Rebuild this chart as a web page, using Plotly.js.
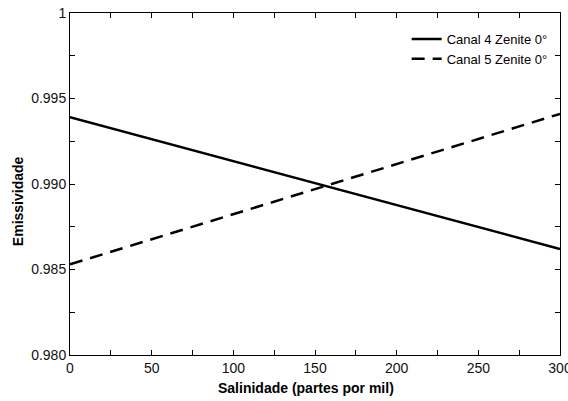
<!DOCTYPE html>
<html><head><meta charset="utf-8">
<script src="https://cdn.plot.ly/plotly-3.0.1.min.js"></script>
<style>body{margin:0;background:#fff}#chart{width:568px;height:401px}</style>
</head><body><div id="chart"></div>
<script>
const salinidade = [0, 50, 100, 150, 200, 250, 300];
const canal4 = [0.9939, 0.99262, 0.99133, 0.99005, 0.98877, 0.98748, 0.9862];
const canal5 = [0.9853, 0.98677, 0.98823, 0.9897, 0.99117, 0.99263, 0.9941];
const yTickVals = [0.980, 0.985, 0.990, 0.995, 1];
const yTickText = ['0.980', '0.985', '0.990', '0.995', '1'];
const names = ['Canal 4 Zenite 0°', 'Canal 5 Zenite 0°'];
const xTitle = 'Salinidade (partes por mil)';
const yTitle = 'Emissividade';

const traces = [
  {x: salinidade, y: canal4, name: names[0], mode: 'lines', line: {color: '#000', width: 2.5}},
  {x: salinidade, y: canal5, name: names[1], mode: 'lines', line: {color: '#000', width: 2.5, dash: '13px,8px'}}
];
const fam = 'Liberation Sans, Arial, sans-serif';
const layout = {
  width: 568, height: 401,
  margin: {l: 70, r: 8, t: 13, b: 46},
  paper_bgcolor: '#fff', plot_bgcolor: '#fff',
  font: {family: fam, color: '#000', size: 14},
  showlegend: true,
  legend: {x: 0.985, y: 0.968, xanchor: 'right', yanchor: 'top', bgcolor: 'rgba(0,0,0,0)',
           font: {family: fam, size: 13, color: '#000'}, tracegroupgap: 0},
  xaxis: {
    range: [0, 300], tickvals: salinidade, ticks: 'inside', ticklen: 5, tickcolor: '#000',
    showline: true, linecolor: '#000', linewidth: 1, mirror: 'ticks', showgrid: false, zeroline: false,
    tickfont: {family: fam, size: 14, color: '#111'}, ticklabeloverflow: 'allow',
    minor: {dtick: 25, ticks: 'inside', ticklen: 5, tickcolor: '#000', showgrid: false}
  },
  yaxis: {
    range: [0.980, 1], tickvals: yTickVals, ticktext: yTickText, ticks: 'inside', ticklen: 5, tickcolor: '#000',
    showline: true, linecolor: '#000', linewidth: 1, mirror: 'ticks', showgrid: false, zeroline: false,
    tickfont: {family: fam, size: 14, color: '#111'},
    minor: {dtick: 0.0025, ticks: 'inside', ticklen: 5, tickcolor: '#000', showgrid: false}
  },
  annotations: [
    {text: '<b>' + xTitle + '</b>', xref: 'paper', yref: 'paper', x: 0.4816, y: -0.0965,
     xanchor: 'center', yanchor: 'middle', showarrow: false, font: {family: fam, size: 14, color: '#000'}},
    {text: '<b>' + yTitle + '</b>', xref: 'paper', yref: 'paper', x: -0.106, y: 0.45, textangle: -90,
     xanchor: 'center', yanchor: 'middle', showarrow: false, font: {family: fam, size: 14, color: '#000'}}
  ]
};
Plotly.newPlot('chart', traces, layout, {displayModeBar: false, staticPlot: true});
</script></body></html>
